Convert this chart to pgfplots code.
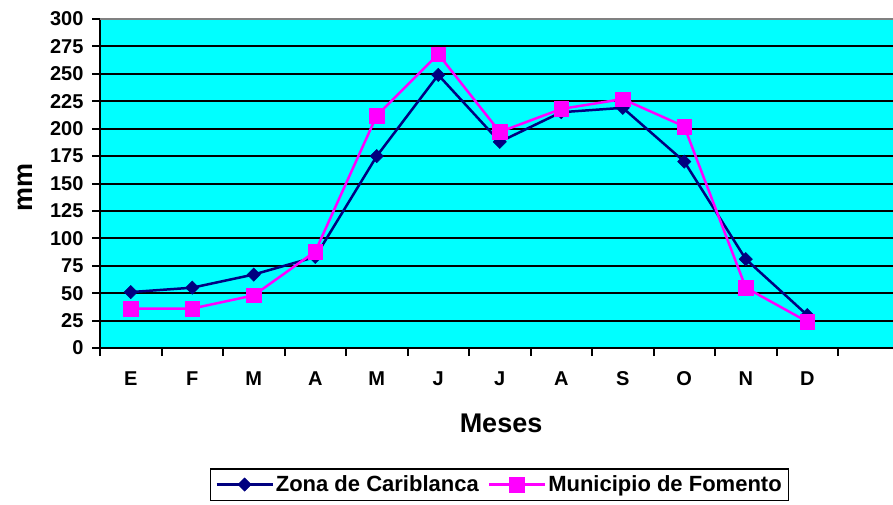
\documentclass[border=0pt]{standalone}
\usepackage{fontspec}
\setmainfont{Liberation Sans}
\usepackage{pgfplots}
\pgfplotsset{compat=1.18}
\definecolor{navyc}{RGB}{0,0,128}
\definecolor{magc}{RGB}{255,0,255}
\definecolor{cyanc}{RGB}{0,255,255}
\begin{document}
\begin{tikzpicture}[x=1pt,y=1pt]
\useasboundingbox (-100,-156) rectangle (793,348);
\begin{axis}[at={(0,0)}, anchor=south west, scale only axis,
  width=793pt, height=329pt,
  xmin=-0.5, xmax=12.394, ymin=0, ymax=300,
  axis background/.style={fill=cyanc},
  axis x line*=bottom, axis y line*=left,
  axis line style={black, line width=2.5pt},
  ytick={0,25,...,300},
  xtick={0,...,11},
  xticklabels={E,F,M,A,M,J,J,A,S,O,N,D},
  minor xtick={-0.5,0.5,...,11.5},
  tick align=outside,
  major tick length=8pt, minor tick length=8pt,
  major x tick style={draw=none},
  minor x tick style={black, line width=2pt},
  major y tick style={black, line width=2pt},
  ymajorgrids, major grid style={black, line width=2pt},
  /pgf/number format/assume math mode=true,
  tick label style={font=\bfseries\fontsize{20}{20}\selectfont},
  xticklabel style={yshift=-12pt},
  yticklabel style={xshift=-5pt},
  xlabel={Meses}, ylabel={mm},
  label style={font=\bfseries\fontsize{27}{27}\selectfont},
  xlabel style={at={(rel axis cs:0.5057,-0.228)}, anchor=center},
  ylabel style={at={(rel axis cs:-0.0946,0.489)}, anchor=center, rotate=0},
  legend columns=-1,
  legend style={at={(rel axis cs:0.5038,-0.415)}, anchor=center,
    draw=black, line width=1.5pt, font=\bfseries\fontsize{22}{22}\selectfont,
    /tikz/every even column/.append style={column sep=7pt},
    inner xsep=5pt, inner ysep=5pt},
  legend image code/.code={\draw[mark repeat=2,mark phase=2,#1,line width=2.5pt] plot coordinates {(0pt,0pt) (28pt,0pt) (56pt,0pt)};},
  clip=false,
]
\addplot[navyc, line width=2.5pt, mark=square*, mark size=4.7pt, mark options={solid, rotate=45, fill=navyc, draw=navyc, line width=0.5pt}]
 coordinates {(0,51) (1,55) (2,67) (3,83) (4,175) (5,249) (6,188) (7,215) (8,219) (9,170) (10,81) (11,30)};
\addlegendentry{Zona de Cariblanca}
\addplot[magc, line width=2.5pt, mark=square*, mark size=7.3pt, mark options={solid, fill=magc, draw=magc, line width=0.5pt}]
 coordinates {(0,36) (1,36) (2,48) (3,88) (4,212) (5,268) (6,197) (7,218) (8,227) (9,202) (10,55) (11,24)};
\addlegendentry{Municipio de Fomento}
\draw[gray, line width=2pt] (rel axis cs:0,1) -- (rel axis cs:1,1);
\end{axis}
\end{tikzpicture}
\end{document}
